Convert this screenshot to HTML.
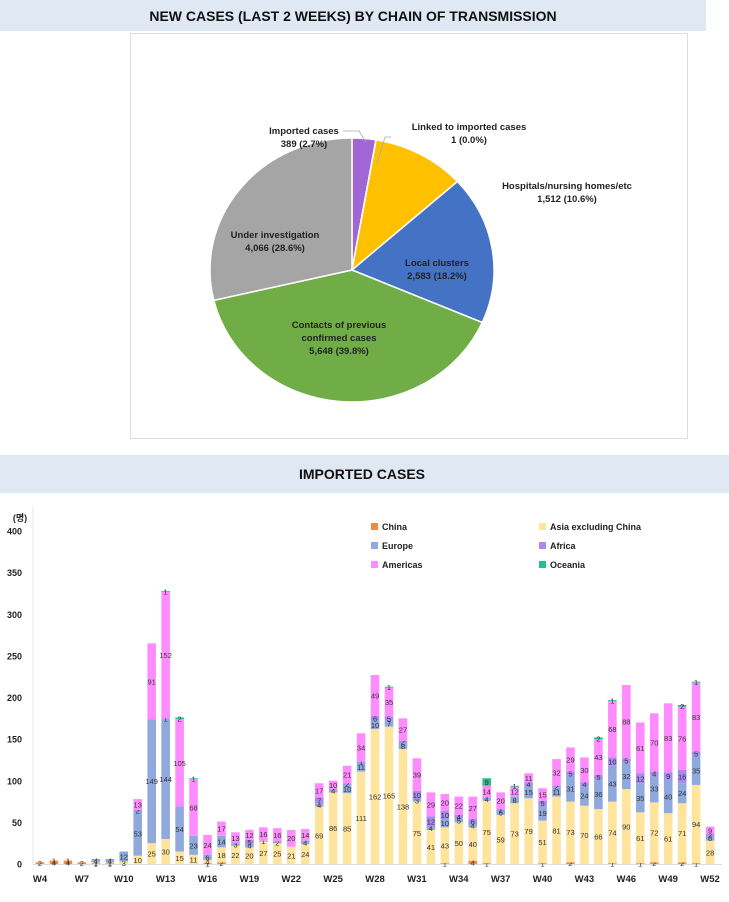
<!DOCTYPE html>
<html><head><meta charset="utf-8"><style>
body{margin:0;width:729px;height:897px;background:#fff;overflow:hidden;font-family:"Liberation Sans","Noto Sans CJK KR",sans-serif}
</style></head><body>
<svg id="s" width="729" height="897" xmlns="http://www.w3.org/2000/svg" font-family="Liberation Sans, Noto Sans CJK KR, sans-serif">
<rect x="0" y="0" width="706" height="31" fill="#DFE8F3"/>
<text x="353" y="21" text-anchor="middle" font-size="14" font-weight="bold" fill="#111">NEW CASES (LAST 2 WEEKS) BY CHAIN OF TRANSMISSION</text>
<rect x="130.5" y="33.5" width="557" height="405" fill="#fff" stroke="#ddd"/>
<g id="pie"></g>
<g font-size="9.5" font-weight="bold" fill="#222" text-anchor="middle">
<text x="304" y="134">Imported cases</text><text x="304" y="147">389 (2.7%)</text>
<text x="469" y="130">Linked to imported cases</text><text x="469" y="143">1 (0.0%)</text>
<text x="567" y="189">Hospitals/nursing homes/etc</text><text x="567" y="202">1,512 (10.6%)</text>
<text x="437" y="266">Local clusters</text><text x="437" y="279">2,583 (18.2%)</text>
<text x="339" y="328">Contacts of previous</text><text x="339" y="341">confirmed cases</text><text x="339" y="354">5,648 (39.8%)</text>
<text x="275" y="238">Under investigation</text><text x="275" y="251">4,066 (28.6%)</text>
</g>
<polyline points="343,131 359,131 366,142" fill="none" stroke="#aaa" stroke-width="0.8"/>
<polyline points="391,137 385,137 377,164" fill="none" stroke="#aaa" stroke-width="0.8"/>
<rect x="0" y="455" width="729" height="38" fill="#DFE8F3"/>
<text x="362" y="479" text-anchor="middle" font-size="14" font-weight="bold" fill="#111">IMPORTED CASES</text>
<g font-size="9" font-weight="bold" fill="#222">
<rect x="371" y="523" width="7" height="7" fill="#F28C3C"/><text x="382" y="530">China</text>
<rect x="371" y="542" width="7" height="7" fill="#8FA9DC"/><text x="382" y="549">Europe</text>
<rect x="371" y="561" width="7" height="7" fill="#FF8CFF"/><text x="382" y="568">Americas</text>
<rect x="539" y="523" width="7" height="7" fill="#FFE49E"/><text x="550" y="530">Asia excluding China</text>
<rect x="539" y="542" width="7" height="7" fill="#A98AEE"/><text x="550" y="549">Africa</text>
<rect x="539" y="561" width="7" height="7" fill="#22C08E"/><text x="550" y="568">Oceania</text>
</g>
<line x1="33" y1="507" x2="33" y2="864" stroke="#e4e4e4"/>
<line x1="33" y1="864.5" x2="722" y2="864.5" stroke="#ddd"/>
<g id="bars"></g>
</svg>
<script>
var NS="http://www.w3.org/2000/svg";
function el(p,t,a,txt){var e=document.createElementNS(NS,t);for(var k in a)e.setAttribute(k,a[k]);if(txt!==undefined)e.textContent=txt;p.appendChild(e);return e;}
// pie
var pie=document.getElementById('pie');
var cx=352,cy=270,rx=142,ry=132;
var sl=[[2.7,'#9F66D4'],[0.01,'#fff'],[10.6,'#FFC000'],[18.2,'#4472C4'],[39.8,'#70AD47'],[28.69,'#A5A5A5']];
var a=-Math.PI/2;
sl.forEach(function(s){var b=a+s[0]/100*2*Math.PI;
var x1=cx+rx*Math.cos(a),y1=cy+ry*Math.sin(a),x2=cx+rx*Math.cos(b),y2=cy+ry*Math.sin(b);
var lg=(b-a)>Math.PI?1:0;
el(pie,'path',{d:'M'+cx+','+cy+' L'+x1+','+y1+' A'+rx+','+ry+' 0 '+lg+' 1 '+x2+','+y2+' Z',fill:s[1],stroke:'#fff','stroke-width':1.5});a=b;});
// bars
var g=document.getElementById('bars');
var ticks=[0,50,100,150,200,250,300,350,400];
var svg=document.getElementById('s');
ticks.forEach(function(t){el(svg,'text',{x:22,y:864-t*0.8325+3.5,'text-anchor':'end','font-size':9,'font-weight':'bold',fill:'#222'},t);});
el(svg,'text',{x:20,y:521,'text-anchor':'middle','font-size':9,'font-weight':'bold',fill:'#222'},'(명)');
var C=['#F28C3C','#FFE49E','#8FA9DC','#A98AEE','#FF8CFF','#22C08E'];
// china, asia, europe, africa, americas, oceania
var D=[[2,0,0,0,0,0],[4,1,0,0,0,0],[4,1,0,0,0,0],[2,0,0,0,0,0],[1,1,4,0,0,0],[1,1,4,0,0,0],[0,3,12,0,0,0],
[0,10,53,2,13,0],[0,25,149,0,91,0],[0,30,144,1,152,1],[0,15,54,0,105,2],[0,11,23,0,68,1],[1,4,6,0,24,0],[2,18,14,0,17,0],
[0,22,3,0,13,0],[0,20,4,5,12,0],[0,27,1,0,16,0],[0,25,2,0,16,0],[0,21,0,0,20,0],[0,24,4,0,14,0],[0,69,4,7,17,0],
[0,86,4,0,10,0],[0,85,10,2,21,0],[0,111,11,1,34,0],[0,162,10,6,49,0],[0,165,7,5,35,1],[0,138,8,2,27,0],[0,75,3,10,39,0],
[0,41,4,12,29,0],[1,43,10,10,20,0],[0,50,5,4,22,0],[4,40,4,6,27,0],[1,75,4,0,14,9],[0,59,6,1,20,0],[0,73,8,0,12,1],
[0,79,15,4,11,0],[1,51,19,5,15,0],[0,81,11,2,32,0],[2,73,31,5,29,0],[0,70,24,4,30,0],[0,66,36,5,43,2],[1,74,43,10,68,1],
[0,90,32,5,88,0],[1,61,35,12,61,0],[2,72,33,4,70,0],[0,61,40,9,83,0],[2,71,24,16,76,2],[1,94,35,5,83,1],[0,28,6,2,9,0]];
var s=0.8325,bw=8.6;
D.forEach(function(d,i){var x=40+i*13.96;var y=864;
d.forEach(function(v,j){if(!v)return;var h=v*s;y-=h;el(g,'rect',{x:x-bw/2,y:y,width:bw,height:h,fill:C[j]});
el(g,'text',{x:x,y:y+h/2+3,'text-anchor':'middle','font-size':7.5,fill:'#333'},v);});
if(i%3==0)el(g,'text',{x:x,y:882,'text-anchor':'middle','font-size':9.5,'font-weight':'bold',fill:'#222'},'W'+(i+4));});
</script>
</body></html>
